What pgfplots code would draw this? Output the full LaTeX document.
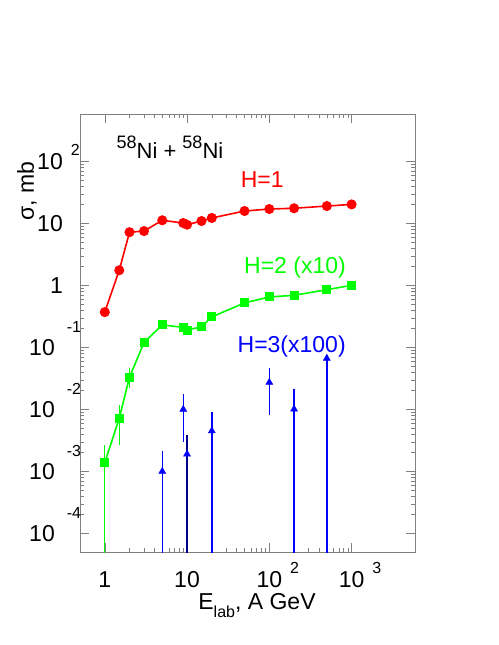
\documentclass[border=0pt]{standalone}
\usepackage{pgfplots}
\pgfplotsset{compat=1.18}
\usepackage{fontspec}
\setmainfont{Liberation Sans}
\newcommand\plab[1]{\hbox{10\rlap{\hbox to 8pt{}\raisebox{14pt}[0pt][0pt]{\fontsize{16}{16}\selectfont #1}}}}
\newcommand\nlab[1]{\hbox{10\rlap{\hbox to 12pt{}\raisebox{23pt}[0pt][0pt]{\fontsize{16}{16}\selectfont #1}}\hbox to 8pt{}}}
\definecolor{rred}{RGB}{255,0,0}
\definecolor{rgreen}{RGB}{0,255,0}
\definecolor{rblue}{RGB}{0,0,255}
\begin{document}
\begin{tikzpicture}
\fill[white] (0,0) rectangle (498pt,645pt);
\begin{axis}[
  at={(80pt,93pt)}, anchor=south west,
  width=335pt, height=438pt, scale only axis,
  xmode=log, ymode=log,
  xmin=0.5, xmax=5900, ymin=5e-5, ymax=580,
  xtick={1,10,100,1000},
  xticklabels={1,10,\plab{2},\plab{3}},
  ytick={1e-4,1e-3,1e-2,1e-1,1,10,100},
  yticklabels={\nlab{-4},\nlab{-3},\nlab{-2},\nlab{-1},1,10,\plab{2}},
  tick label style={font=\fontsize{23}{23}\selectfont},
  xticklabel style={anchor=base, yshift=-35pt, inner sep=0pt},
  yticklabel style={anchor=east, inner sep=0pt, xshift=-17pt},
  axis line style={black!50},
  every tick/.style={black!50},
  major tick length=9pt, minor tick length=4.5pt,
  unbounded coords=jump,
]
% error bars (lower end below the axis where the error reaches zero)
\addplot[rgreen, line width=1pt, mark=none] coordinates {
 (1,3e-5) (1,0.0027) (1,nan)
 (1.5,0.00265) (1.5,0.0116) (1.5,nan)
 (2,0.022) (2,0.046)};
\addplot[rblue, line width=1.5pt, mark=none] coordinates {
 (5,3e-5) (5,0.0021) (5,nan)
 (9,0.003) (9,0.0177) (9,nan)
 (20,3e-5) (20,0.0091) (20,nan)
 (100,0.008) (100,0.0464) (100,nan)
 (200,3e-5) (200,0.021) (200,nan)
 (500,3e-5) (500,0.075)};
\addplot[rblue!55!black, line width=1.5pt, mark=none] coordinates {
 (10,3e-5) (10,0.0038)};
\addplot[rred, line width=1.6pt, mark=*, mark size=4.2pt] coordinates {
 (1,0.37) (1.5,1.75) (2,7.2) (3,7.5) (5,11.2) (9,10.1) (10,9.5) (15,10.9)
 (20,12.2) (50,15.8) (100,17) (200,17.5) (500,19) (1000,20.2)};
\addplot[rgreen, line width=1.6pt, mark=square*, mark size=3.7pt] coordinates {
 (1,0.00138) (1.5,0.0072) (2,0.033) (3,0.12) (5,0.23) (9,0.21) (10,0.19)
 (15,0.215) (20,0.31) (50,0.52) (100,0.65) (200,0.69) (500,0.85) (1000,1.0)};
\addplot[rblue, only marks, mark=triangle*, mark size=4pt] coordinates {
 (5,0.001) (9,0.01) (10,0.0019) (20,0.0045) (100,0.0272) (200,0.0101) (500,0.0665)};
\node[anchor=base, font=\fontsize{22}{22}\selectfont] at (axis cs:6.2,112)
  {\raisebox{10pt}{\fontsize{18}{18}\selectfont 58}Ni + \raisebox{10pt}{\fontsize{18}{18}\selectfont 58}Ni};
\node[anchor=base, rred, font=\fontsize{23}{23}\selectfont] at (axis cs:82,38) {H=1};
\node[anchor=base, rgreen, font=\fontsize{23}{23}\selectfont] at (axis cs:205,1.55) {H=2 (x10)};
\node[anchor=base, rblue, font=\fontsize{23}{23}\selectfont] at (axis cs:187,0.0818) {H=3(x100)};
\end{axis}
\node[rotate=90, font=\fontsize{23}{23}\selectfont] at (27pt,454pt) {σ, mb};
\node[anchor=base, font=\fontsize{23}{23}\selectfont] at (257pt,35pt)
  {E\raisebox{-8pt}{\fontsize{16}{16}\selectfont lab}, A GeV};
\end{tikzpicture}
\end{document}
